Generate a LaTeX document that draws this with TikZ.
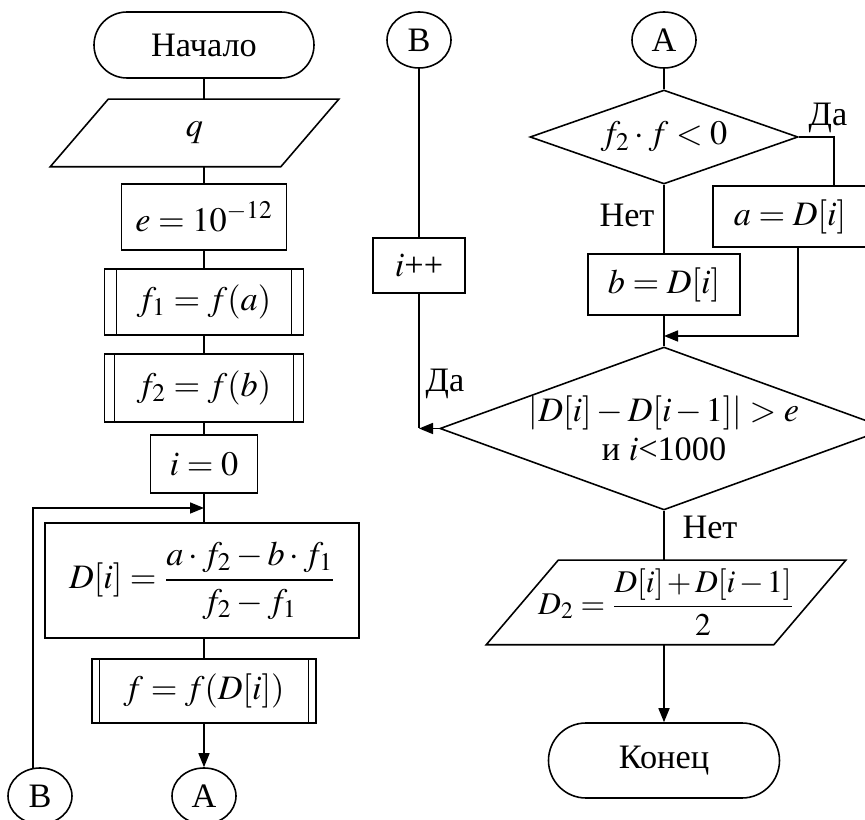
\documentclass[tikz,border=0pt]{standalone}
\usepackage{amsmath}
\usepackage{mathptmx}
\usepackage{fontspec}
\setmainfont{Liberation Serif}
\usetikzlibrary{shapes.geometric, arrows.meta, calc}

\tikzset{
  base/.style={draw, line width=0.9pt, inner sep=0pt, align=center},
  term/.style={base, rectangle, rounded corners=#1},
  proc/.style={base, rectangle},
  subproc/.style={base, rectangle, path picture={
      \draw[line width=0.9pt] ([xshift=#1]path picture bounding box.north west) -- ([xshift=#1]path picture bounding box.south west);
      \draw[line width=0.9pt] ([xshift=-#1]path picture bounding box.north east) -- ([xshift=-#1]path picture bounding box.south east);}},
  subproc/.default=2.2mm,
  % parallelogram drawn round a plain rectangle node, #1 = half the slant offset
  io/.style={rectangle, inner sep=0pt, align=center, append after command={
      \pgfextra{\draw[line width=0.9pt] ([xshift=#1]\tikzlastnode.north west) -- ([xshift=#1]\tikzlastnode.north east)
        -- ([xshift=-#1]\tikzlastnode.south east) -- ([xshift=-#1]\tikzlastnode.south west) -- cycle;}}},
  cond/.style={base, diamond},
  conn/.style={base, ellipse, minimum width=12.8mm, minimum height=11.2mm},
  arr/.style={-{Triangle[length=2.8mm, width=2.2mm]}},
}

\begin{document}
\begin{tikzpicture}[x=0.2mm, y=-0.2mm, line width=0.9pt, font=\fontsize{19.5}{22}\selectfont]
    \useasboundingbox (0,0) rectangle (865,820);

    % --- Left column ---
    \node[term=6.6mm, minimum width=44mm, minimum height=13.2mm] (start) at (204,45) {Начало};
    \node[io=5.8mm, minimum width=45.8mm, minimum height=13.2mm] (inq) at (194.5,133) {$q$};
    \node[proc, minimum width=33mm, minimum height=13.2mm] (ee) at (204,217) {$e=10^{-12}$};
    \node[subproc=2.4mm, minimum width=39.8mm, minimum height=13.2mm] (f1) at (204,302) {$f_1=f(a)$};
    \node[subproc=2mm, minimum width=39.8mm, minimum height=13.6mm] (f2) at (204,388) {$f_2=f(b)$};
    \node[proc, minimum width=21.4mm, minimum height=11.6mm] (i0) at (204,464) {$i=0$};
    \node[proc, minimum width=62.8mm, minimum height=23mm] (Dbox) at (202,580.5) {$D[i]=\dfrac{a\cdot f_2-b\cdot f_1}{f_2-f_1}$};
    \node[subproc=1.5mm, minimum width=44.8mm, minimum height=12.8mm] (fD) at (204,691) {$f=f(D[i])$};
    \node[conn] (Bb) at (40,796) {B};
    \node[conn] (Ab) at (204,796) {A};
    \coordinate (loop) at (204,508);

    \draw (start) -- (start |- inq.north);
    \draw (inq.south -| start) -- (ee);
    \draw (ee) -- (f1);
    \draw (f1) -- (f2);
    \draw (f2) -- (i0);
    \draw (i0) -- (i0 |- Dbox.north);
    \draw (Dbox.south -| fD) -- (fD);
    \draw[arr] (fD) -- (Ab);
    \draw[arr] (Bb.104) |- (loop);

    % --- Right column: increment branch ---
    \node[conn] (Bt) at (419,40) {B};
    \node[proc, minimum width=18.4mm, minimum height=11mm] (inc) at (419,265.5) {$i$++};

    % --- Right column: main branch ---
    \node[conn] (At) at (664,40) {A};
    \node[cond, shape aspect=2.85, minimum width=53.6mm, minimum height=18.8mm] (dec1) at (664,137) {$f_2\cdot f<0$};
    \node[proc, minimum width=30.8mm, minimum height=12.2mm] (abox) at (790,216.5) {$a=D[i]$};
    \node[proc, minimum width=30.4mm, minimum height=12.2mm] (bbox) at (664,284.5) {$b=D[i]$};
    \node[cond, shape aspect=2.75, minimum width=86.4mm, minimum height=31.4mm] (dec2) at (664,428.5)
        {$\left|D[i]-D[i\mkern2mu{-}\mkern2mu1]\right|>e$\\и $i$<1000};
    \node[io=7.2mm, minimum width=57.2mm, minimum height=16.6mm, font=\fontsize{18}{21}\selectfont] (outD) at (666,602.5)
        {$D_2=\dfrac{D[i]\mkern2mu{+}\mkern2mu D[i\mkern2mu{-}\mkern2mu1]}{2}$};
    \node[term=7.5mm, minimum width=46.2mm, minimum height=15mm] (stop) at (664,760.5) {Конец};
    \coordinate (merge) at (664,336);

    \node (yes1) at (828,118) {Да};
    \node (no1) at (627,215) {Нет};
    \node (yes2) at (445,384) {Да};
    \node (no2) at (710,527) {Нет};

    \draw (Bt) -- (inc);
    \draw (inc) -- (dec2.west -| inc);
    \draw[arr] (dec2.west) -- (dec2.west -| inc);
    \draw (At) -- (dec1);
    \draw (dec1) -- (bbox);
    \draw (dec1.east) -| ([xshift=8.8mm]abox.north);
    \draw[arr] ([xshift=1.6mm]abox.south) |- (merge);
    \draw (bbox) -- (dec2);
    \draw (dec2) -- (outD.north -| dec2);
    \draw[arr] (outD.south -| dec2) -- (stop);
\end{tikzpicture}
\end{document}
